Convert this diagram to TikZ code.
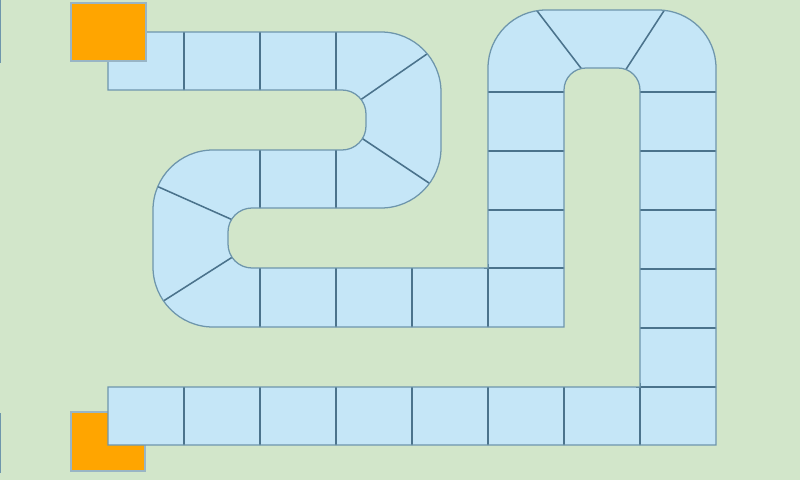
\documentclass[tikz,border=0pt]{standalone}
\definecolor{bg}{RGB}{210,230,202}
\definecolor{cellfill}{RGB}{197,230,247}
\definecolor{edge}{RGB}{110,150,172}
\definecolor{divider}{RGB}{75,115,140}
\definecolor{pawn}{RGB}{255,165,0}
\begin{document}
\begin{tikzpicture}[x=0.025cm,y=-0.025cm,
  outline/.style={draw=edge,line width=0.9pt},
  divline/.style={draw=divider,line width=1.1pt},
  startbox/.style={fill=pawn,draw=edge!70,line width=0.8pt},
  edgemark/.style={draw=edge,line width=1.1pt}]
\fill[bg] (0,0) rectangle (800,480);
\useasboundingbox (0,0) rectangle (800,480);
\def\trackpath{(108,32) -- (381,32) arc[start angle=270,end angle=360,radius=60]
 -- (441,148) arc[start angle=0,end angle=90,radius=60]
 -- (252,208) arc[start angle=270,end angle=180,radius=24]
 -- (228,244) arc[start angle=180,end angle=90,radius=24]
 -- (488,268) -- (488,68) arc[start angle=180,end angle=270,radius=58]
 -- (658,10) arc[start angle=270,end angle=360,radius=58]
 -- (716,445) -- (108,445) -- (108,387) -- (640,387)
 -- (640,90) arc[start angle=360,end angle=270,radius=22]
 -- (586,68) arc[start angle=270,end angle=180,radius=22]
 -- (564,327) -- (213,327) arc[start angle=90,end angle=180,radius=60]
 -- (153,210) arc[start angle=180,end angle=270,radius=60]
 -- (342,150) arc[start angle=90,end angle=0,radius=24]
 -- (366,114) arc[start angle=0,end angle=-90,radius=24]
 -- (108,90) -- cycle}
% left edge marks
\draw[edgemark] (0.6,0) -- (0.6,63);
\draw[edgemark] (0.6,413) -- (0.6,473);
% bottom start box (under the track)
\draw[startbox] (71,412) rectangle (145,471);
% track
\fill[cellfill] \trackpath;
\begin{scope}
\clip \trackpath;
% row 1
\draw[divline] (184,28) -- (184,94) (260,28) -- (260,94) (336,28) -- (336,94);
% row 2
\draw[divline] (260,146) -- (260,212) (336,146) -- (336,212);
% row 3
\draw[divline] (260,264) -- (260,331) (336,264) -- (336,331) (412,264) -- (412,331) (488,264) -- (488,331);
% U left column
\draw[divline] (484,92) -- (568,92) (484,151) -- (568,151) (484,210) -- (568,210) (484,268) -- (568,268);
% right column
\draw[divline] (636,92) -- (720,92) (636,151) -- (720,151) (636,210) -- (720,210) (636,269) -- (720,269) (636,328) -- (720,328) (636,387) -- (720,387);
% bottom row
\draw[divline] (184,383) -- (184,449) (260,383) -- (260,449) (336,383) -- (336,449) (412,383) -- (412,449) (488,383) -- (488,449) (564,383) -- (564,449) (640,383) -- (640,449);
% curve dividers
\draw[divline] (340,114) -- (453,36) (342,125) -- (456,201);
\draw[divline] (143,180) -- (244,225) (154,307) -- (242,251);
\draw[divline] (531,3) -- (587,76) (669,3) -- (621,77);
\end{scope}
\draw[outline] \trackpath;
% top start box (over the track)
\draw[startbox] (71,3) rectangle (146,61);
\end{tikzpicture}
\end{document}
